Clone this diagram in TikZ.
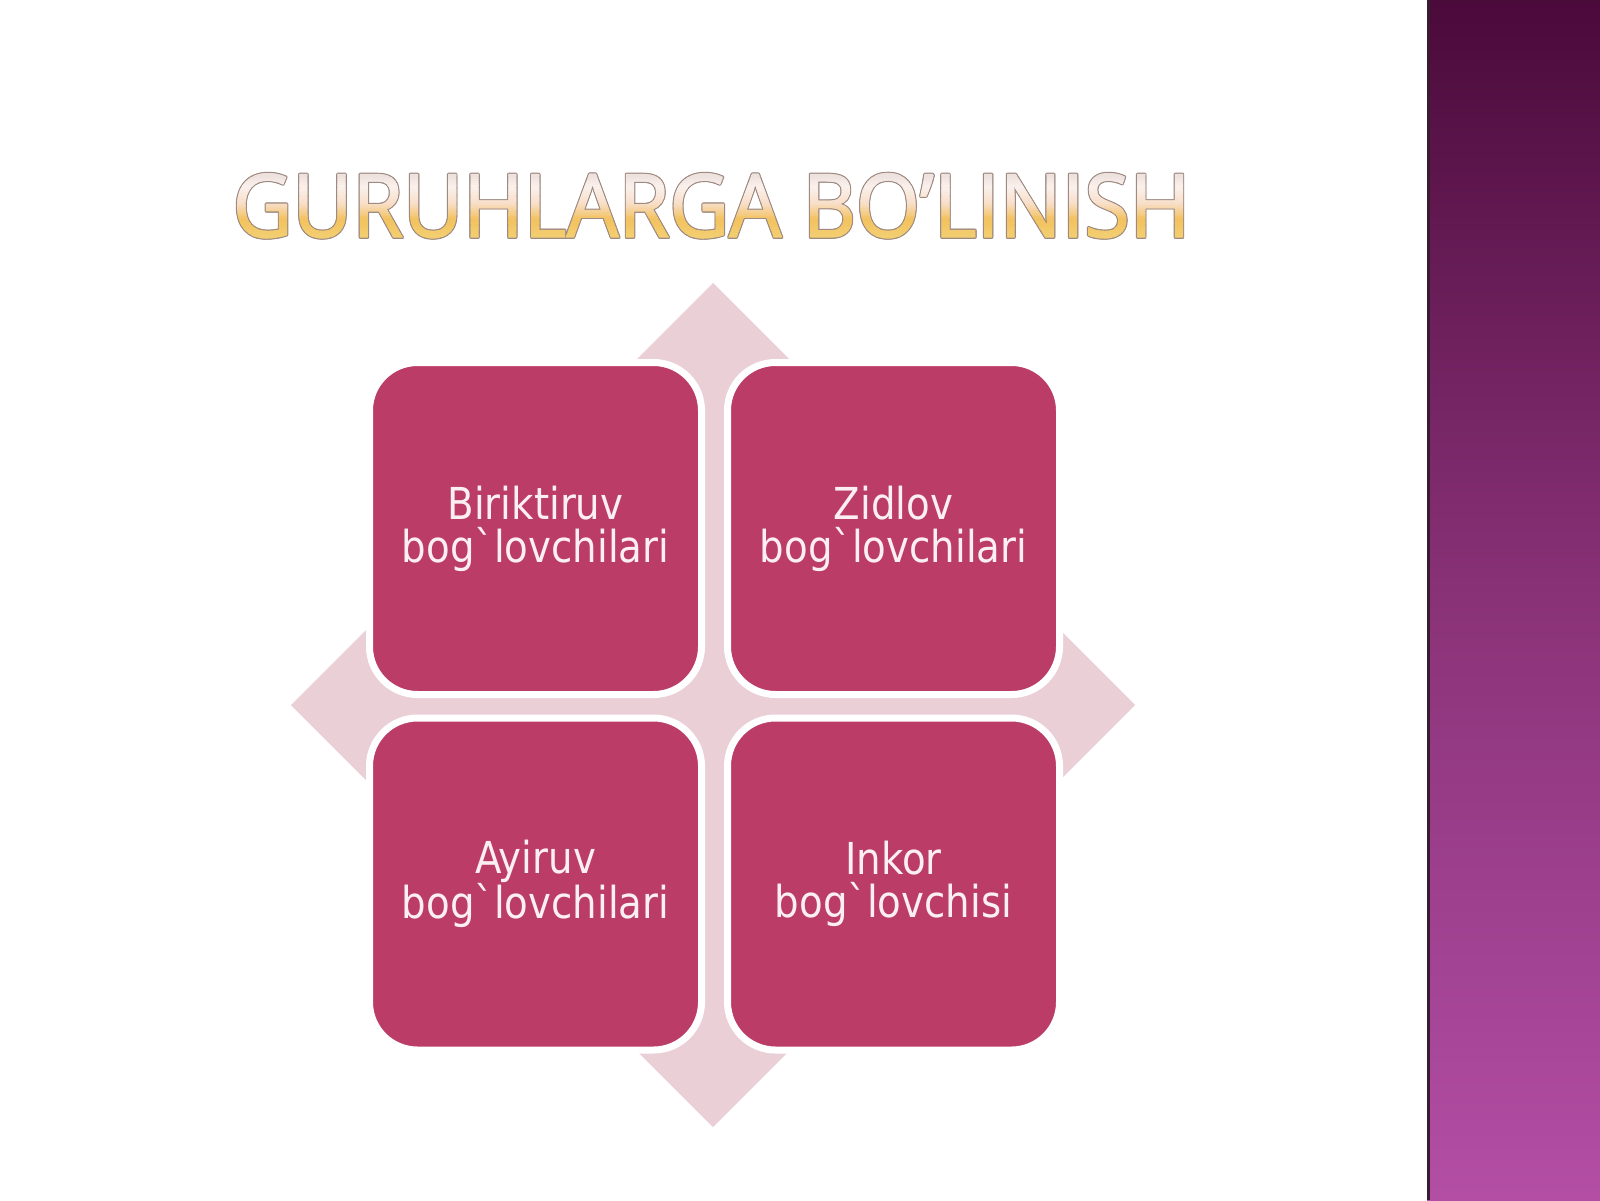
\documentclass[tikz,border=0pt]{standalone}
\usepackage{fontspec}
\newfontfamily\titlefont[FakeStretch=0.94,FakeBold=1.5]{Open Sans}
\newfontfamily\boxfont[FakeStretch=0.88]{DejaVu Sans}
\definecolor{boxfill}{HTML}{BB3C66}
\definecolor{boxtext}{HTML}{FCEFF3}
\definecolor{diam}{HTML}{EACFD7}
\definecolor{bartop}{HTML}{4A0A3A}
\definecolor{barmid}{HTML}{8A3278}
\definecolor{barbot}{HTML}{B34EA5}
\definecolor{barshadow}{HTML}{3A1C32}
\definecolor{tA}{HTML}{E4D6D2}
\definecolor{tB}{HTML}{FAF0EC}
\definecolor{tC}{HTML}{F8DEC8}
\definecolor{tD}{HTML}{F2C25E}
\definecolor{tE}{HTML}{F3D47C}
\definecolor{titleline}{HTML}{9E8A80}
\newcommand{\titletxt}{GURUHLARGA BO’LINISH}
\newcommand{\titlesize}{\titlefont\fontsize{87.5}{87.5}\selectfont}
\tikzset{
  box/.style={rounded corners=48pt, fill=boxfill, draw=white, line width=7pt,
    minimum width=332pt, minimum height=332pt, align=center,
    text=boxtext, font=\boxfont\fontsize{44}{43}\selectfont},
  titletext/.style={inner sep=0pt, anchor=base, font=\titlesize},
  titleshadow/.style={titletext, text=titleline}
}
\begin{document}
\begin{tikzpicture}[x=1pt,y=-1pt]
  \useasboundingbox (0,0) rectangle (1600,1200);
  \fill[white] (0,0) rectangle (1600,1200);
  % right bar
  \shade[top color=bartop, bottom color=barbot, middle color=barmid] (1427,0) rectangle (1600,1200);
  \fill[barshadow] (1427,0) rectangle (1430,1200);
  % title outline
  \foreach \dx/\dy in {1.2/0,-1.2/0,0/1.2,0/-1.2,0.85/0.85,-0.85/0.85,0.85/-0.85,-0.85/-0.85}{
    \node[titleshadow] at (711.5+\dx,237+\dy) {\titletxt};
  }
  % title gradient fill, drawn in thin clipped bands
  \node[titletext, text opacity=0] (title) at (711.5,237) {\titletxt};
  \foreach \ya/\yb/\ca/\cb in {166/188/tA/tB, 188/204/tB/tC, 204/220/tC/tD, 220/246/tD/tE}{
    \foreach \i in {0,...,9}{
      \pgfmathsetmacro{\ylo}{\ya+(\yb-\ya)*\i/10}
      \pgfmathsetmacro{\yhi}{\ya+(\yb-\ya)*(\i+1)/10+0.4}
      \pgfmathtruncatemacro{\pc}{\i*10+5}
      \colorlet{bandc}{\cb!\pc!\ca}
      \begin{scope}
        \clip (150,\ylo) rectangle (1300,\yhi);
        \node[titletext, text=bandc] at (title.base) {\titletxt};
      \end{scope}
    }
  }
  % diamond
  \fill[diam] (713,283) -- (1135,705) -- (713,1127) -- (291,705) -- cycle;
  % boxes
  \node[box] (b1) at (535.5,528.5) {Biriktiruv\\bog`lovchilari};
  \node[box] (b2) at (893.5,528.5) {Zidlov\\bog`lovchilari};
  \node[box] (b3) at (535.5,884) {Ayiruv\\bog`lovchilari};
  \node[box] (b4) at (893.5,884) {Inkor\\bog`lovchisi};
\end{tikzpicture}
\end{document}
